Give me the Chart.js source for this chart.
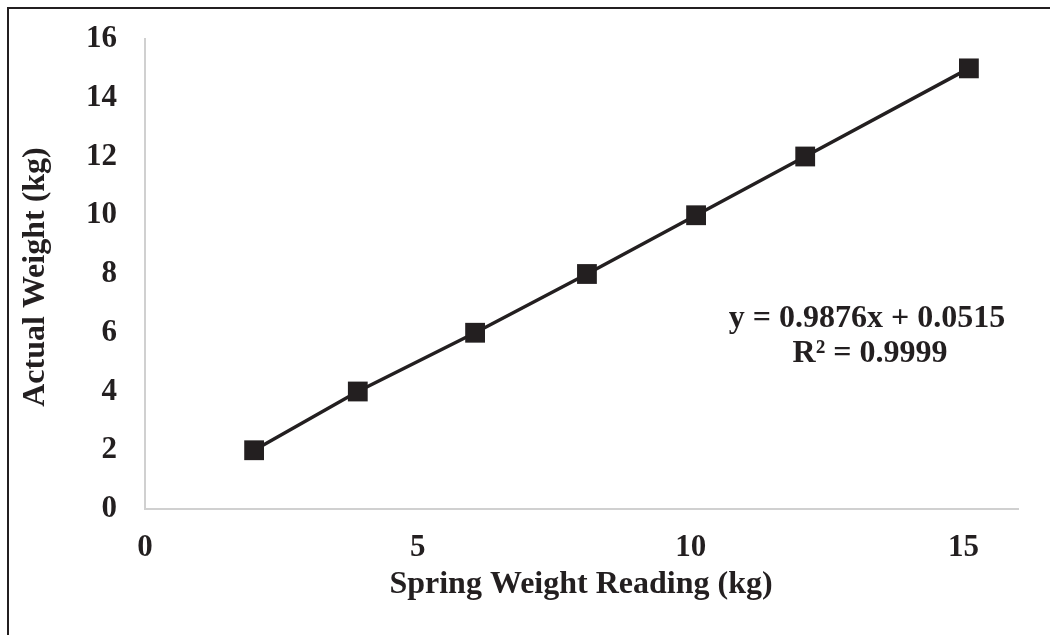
<!DOCTYPE html>
<html>
<head>
<meta charset="utf-8">
<script src="https://cdn.jsdelivr.net/npm/chart.js@4/dist/chart.umd.min.js"></script>
<style>
  html, body { margin: 0; padding: 0; background: #fff; }
  #wrap { width: 1050px; height: 635px; position: relative; }
</style>
</head>
<body>
<div id="wrap"><canvas id="c" width="1050" height="635"></canvas></div>
<script>
// Data
const springReading = [2.0, 3.9, 6.05, 8.1, 10.1, 12.1, 15.1];
const actualWeight  = [2, 4, 6, 8, 10, 12, 15];
const xTitle = 'Spring Weight Reading (kg)';
const yTitle = 'Actual Weight (kg)';
const equationLines = ['y = 0.9876x + 0.0515', 'R\u00B2 = 0.9999'];

const FONT = "'Liberation Serif', 'Times New Roman', serif";
const INK = '#231f20';

const points = springReading.map((x, i) => ({ x: x, y: actualWeight[i] }));

const decor = {
  id: 'decor',
  beforeDraw(chart) {
    const ctx = chart.ctx;
    ctx.save();
    ctx.fillStyle = '#fff';
    ctx.fillRect(0, 0, chart.width, chart.height);
    ctx.strokeStyle = INK;
    ctx.lineWidth = 2;
    ctx.beginPath();
    ctx.moveTo(8, 635);
    ctx.lineTo(8, 8);
    ctx.lineTo(1050, 8);
    ctx.stroke();
    ctx.restore();
  },
  afterDraw(chart) {
    const ctx = chart.ctx;
    const a = chart.chartArea;
    ctx.save();
    ctx.fillStyle = INK;
    ctx.font = "bold 32px " + FONT;
    ctx.textAlign = 'center';
    ctx.textBaseline = 'middle';
    ctx.fillText(equationLines[0], a.left + 722, a.top + 280);
    ctx.fillText(equationLines[1], a.left + 725, a.top + 315);
    // axis titles
    ctx.fillText(xTitle, 581, 585);
    ctx.translate(36, 277);
    ctx.rotate(-Math.PI / 2);
    ctx.fillText(yTitle, 0, 0);
    ctx.restore();
  }
};

new Chart(document.getElementById('c'), {
  type: 'scatter',
  data: {
    datasets: [{
      data: points,
      showLine: true,
      borderColor: INK,
      backgroundColor: INK,
      borderWidth: 3.5,
      pointStyle: 'rect',
      pointRadius: 14,
      pointHoverRadius: 14,
      pointBorderWidth: 0,
      tension: 0
    }]
  },
  options: {
    responsive: false,
    animation: false,
    events: [],
    layout: { padding: { left: 0, top: 39, right: 32, bottom: 0 } },
    plugins: { legend: { display: false }, tooltip: { enabled: false } },
    scales: {
      x: {
        type: 'linear',
        min: 0, max: 16,
        grid: { display: false, drawTicks: false },
        border: { display: true, color: '#d0d0d0', width: 2 },
        ticks: {
          stepSize: 5,
          includeBounds: false,
          padding: 20,
          color: INK,
          font: { family: FONT, size: 31, weight: 'bold' },
          maxRotation: 0
        },
        afterFit(s) { s.height = 126; s.paddingLeft = 0; s.paddingRight = 0; }
      },
      y: {
        type: 'linear',
        min: 0, max: 16,
        grid: { display: false, drawTicks: false },
        border: { display: true, color: '#d0d0d0', width: 2 },
        ticks: {
          stepSize: 2,
          padding: 28,
          color: INK,
          font: { family: FONT, size: 31, weight: 'bold' }
        },
        afterFit(s) { s.width = 145; s.paddingTop = 0; s.paddingBottom = 0; }
      }
    }
  },
  plugins: [decor]
});
</script>
</body>
</html>
